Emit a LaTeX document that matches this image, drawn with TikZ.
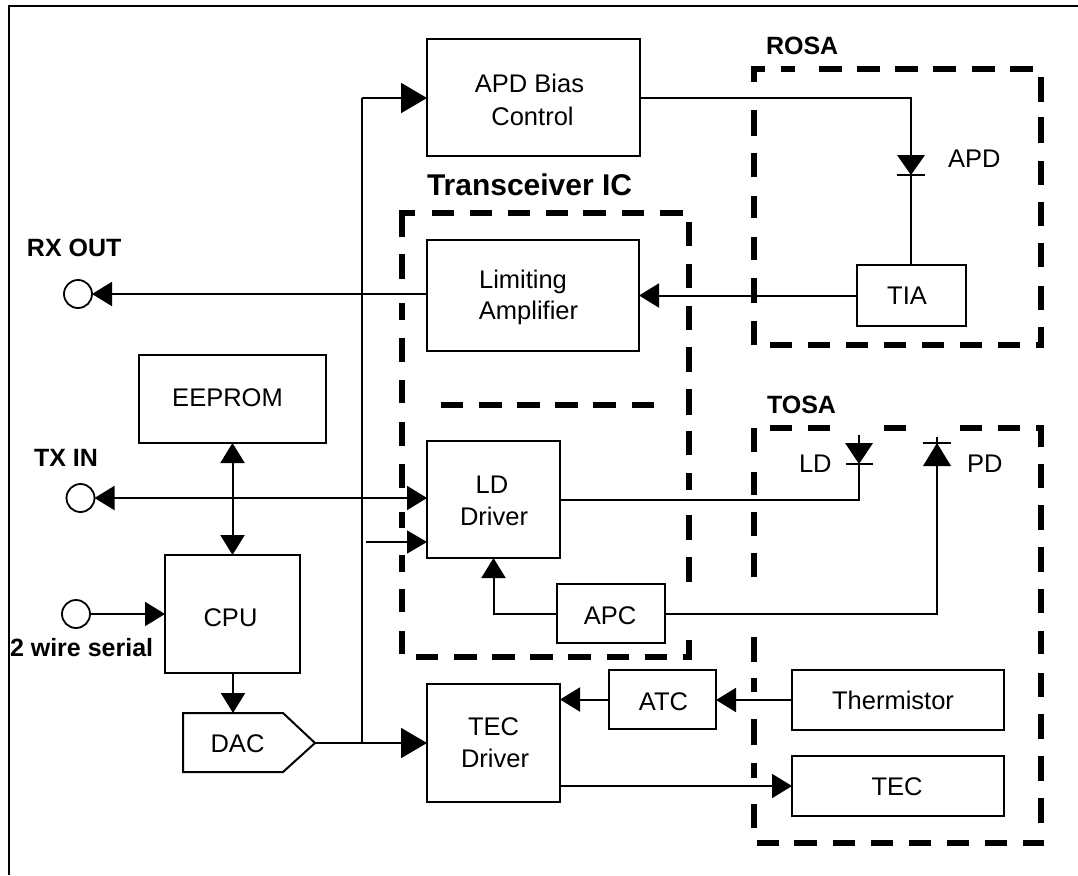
\documentclass[tikz,border=0pt]{standalone}
\usepackage{fontspec}
\setmainfont{Liberation Sans}
\usetikzlibrary{arrows.meta,calc}
% one line of box text: horizontal offset, baseline below the box centre, text
\newcommand{\tline}[3]{\makebox[0pt]{\hspace*{\dimexpr 2\dimexpr #1pt\relax\relax}\raisebox{\dimexpr -#2pt\relax}[0pt][0pt]{#3}}}
\tikzset{
  ln/.style={line width=2pt,line join=miter},
  boxn/.style={ln,draw,inner sep=0pt,outer sep=0pt,font=\fontsize{25.5}{31.5}\selectfont},
  port/.style={draw,circle,line width=1.8pt,minimum size=28pt,inner sep=0pt,outer sep=0pt},
  reglabel/.style={anchor=base west,inner sep=0pt,outer sep=0pt,font=\fontsize{25.5}{31}\selectfont},
  boldlabel/.style={anchor=base west,inner sep=0pt,outer sep=0pt,font=\bfseries\fontsize{25}{30}\selectfont},
  dashseg/.style={line width=6.6pt,line cap=butt,line join=miter},
  bigarrow/.style={ln,-{Triangle[length=26pt,width=30pt]}},
  midarrow/.style={ln,-{Triangle[length=20pt,width=24pt]}},
  twoarrow/.style={ln,{Triangle[length=20pt,width=24pt]}-{Triangle[length=20pt,width=24pt]}},
  thinarrow/.style={line width=1.4pt,-{Triangle[length=20pt,width=23pt]}},
}
\begin{document}
\begin{tikzpicture}[x=1pt,y=-1pt]
\useasboundingbox (0,0) rectangle (1078,875);
% frame
\draw[line width=2.6pt] (9,875)--(9,6)--(1078,6);

% dashed outlines: ROSA
\draw[dashseg] (754,82)--(754,69)--(765,69);
\foreach \a/\b in {781/795,819/842,857/880,895/918,933/956,972/995,1010/1033} \draw[dashseg] (\a,69)--(\b,69);
\foreach \a/\b in {110/136,153/177,196/218,237/260,278/303,321/345} \draw[dashseg] (754,\a)--(754,\b);
\foreach \a/\b in {77/102,117/143,161/185,202/226,243/267,286/310} \draw[dashseg] (1041,\a)--(1041,\b);
\draw[dashseg] (1036,345)--(1041,345)--(1041,327);
\foreach \a/\b in {770/792,808/830,846/868,884/906,922/944,960/982,998/1020} \draw[dashseg] (\a,345)--(\b,345);
% TOSA
\foreach \a/\b in {770/792,808/830,884/906,960/982,998/1020,1036/1044} \draw[dashseg] (\a,428)--(\b,428);
\foreach \a/\b in {428/452,472/495,512/536,553/577,637/662,678/692,719/745,763/778,804/828} \draw[dashseg] (754,\a)--(754,\b);
\foreach \a/\b in {425/447,464/488,505/530,547/572,589/613,631/654,673/697,714/739,756/781,798/823} \draw[dashseg] (1041,\a)--(1041,\b);
\foreach \a/\b in {757/779,794/817,833/855,871/893,909/931,947/969,985/1007,1023/1044} \draw[dashseg] (\a,843)--(\b,843);
% Transceiver IC
\draw[dashseg] (402,237)--(402,213)--(415,213);
\foreach \a/\b in {432/454,470/492,508/530,546/568,583/606,622/644,660/683} \draw[dashseg] (\a,213)--(\b,213);
\foreach \a/\b in {254/279,303/320,338/362,380/403,422/446,464/488,512/528,555/572,589/612,631/654} \draw[dashseg] (402,\a)--(402,\b);
\foreach \a/\b in {222/246,264/288,306/330,347/372,389/415,431/455,473/490,515/540,557/582} \draw[dashseg] (689,\a)--(689,\b);
\foreach \a/\b in {416/438,454/477,492/515,530/553,568/591,607/629,645/667} \draw[dashseg] (\a,657)--(\b,657);
\draw[dashseg] (683,657)--(689,657)--(689,640);
\foreach \a/\b in {441/463,479/502,517/540,555/578,593/616,632/654} \draw[dashseg] (\a,405)--(\b,405);

% boxes
\node[boxn,minimum width=213pt,minimum height=116pt] (apdbias) at (533.5,97.5) {\tline{-4}{-4.8}{APD Bias}\tline{-1}{27.5}{Control}};
\node[boxn,minimum width=212pt,minimum height=111pt] (limit) at (533,295.5) {\tline{-10}{-7.5}{Limiting}\tline{-4.5}{23.5}{Amplifier}};
\node[boxn,minimum width=133pt,minimum height=117pt] (ldrv) at (493.5,499.5) {\tline{-1.5}{-6.5}{LD}\tline{0.5}{25.5}{Driver}};
\node[boxn,minimum width=108pt,minimum height=59pt] (apc) at (611,613.5) {\tline{-1}{10.5}{APC}};
\node[boxn,minimum width=187pt,minimum height=88pt] (eeprom) at (232.5,399) {\tline{-5}{7.7}{EEPROM}};
\node[boxn,minimum width=135pt,minimum height=118pt] (cpu) at (232.5,614) {\tline{-2}{12}{CPU}};
\node[boxn,minimum width=133pt,minimum height=118pt] (tecd) at (493.5,743) {\tline{0}{-8}{TEC}\tline{1.5}{24}{Driver}};
\node[boxn,minimum width=107pt,minimum height=59pt] (atc) at (662.5,699.5) {\tline{1}{11}{ATC}};
\node[boxn,minimum width=212pt,minimum height=60pt] (therm) at (898,700) {\tline{-5}{9}{Thermistor}};
\node[boxn,minimum width=212pt,minimum height=60pt] (tec) at (898,786) {\tline{-1}{9}{TEC}};
\node[boxn,minimum width=109pt,minimum height=61pt] (tia) at (911.5,295.5) {\tline{-4.5}{8.5}{TIA}};
\draw[ln] (183,713)--(283,713)--(315,743)--(283,772)--(183,772)--cycle;
\node[anchor=base,inner sep=0pt,outer sep=0pt,font=\fontsize{25.5}{31}\selectfont] (dac) at (237.5,752.7) {DAC};

% ports
\node[port] (rx) at (78,294) {};
\node[port] (tx) at (80.5,498) {};
\node[port] (ser) at (76,614) {};

% free coordinates
\coordinate (bustop) at (362,98);
\coordinate (dactip) at (315,743);
\coordinate (dactop) at (233,713);
\coordinate (ldin) at (366,542);
\coordinate (apdd) at (911,175);
\coordinate (ldd) at (859,464);
\coordinate (pdd) at (937,443);

% connectors
\draw[bigarrow] (bustop) -- (apdbias.west |- bustop);
\draw[ln] (bustop) -- (bustop |- dactip);
\draw[bigarrow] (dactip) -- (tecd.west |- dactip);
\draw[thinarrow] (ldin) -- (ldrv.west |- ldin);
\draw[midarrow] (tia.west) -- (limit.east);
\draw[midarrow] (limit.west |- rx.east) -- (rx.east);
\draw[twoarrow] (tx.east) -- (ldrv.west |- tx.east);
\draw[twoarrow] (eeprom.south) -- (cpu.north);
\draw[midarrow] (ser.east) -- (cpu.west |- ser.east);
\draw[midarrow] (cpu.south -| dactop) -- (dactop);
\draw[midarrow] (apc.west) -| (ldrv.south);
\draw[midarrow] (atc.west) -- (tecd.east |- atc.west);
\draw[midarrow] (therm.west) -- (atc.east |- therm.west);
\draw[midarrow] (tecd.east |- tec.west) -- (tec.west);
\draw[ln] (apdbias.east) -| (apdd);
\draw[ln] (apdd) -- (apdd |- tia.north);
\draw[ln] (ldrv.east) -| (ldd);
\draw[ln] (apc.east) -| (pdd);

% diodes
\fill[shift={(apdd)}] (-14,-20)--(14,-20)--(0,0)--cycle;
\draw[ln,shift={(apdd)}] (-14,0)--(14,0);
\fill[shift={(ldd)}] (-14,-21)--(14,-21)--(0,0)--cycle;
\draw[ln,shift={(ldd)}] (-13,0)--(14,0) (0,0)--(0,-29);
\fill[shift={(pdd)}] (-14,23)--(14,23)--(0,0)--cycle;
\draw[ln,shift={(pdd)}] (-14,0)--(14,0) (0,0)--(0,-6);

% labels
\node[boldlabel,font=\bfseries\fontsize{30}{36}\selectfont] (ticlab) at (427,195) {Transceiver IC};
\node[boldlabel] (rosalab) at (766,55) {ROSA};
\node[boldlabel] (tosalab) at (767,413) {TOSA};
\node[boldlabel] (rxlab) at (27,256) {RX OUT};
\node[boldlabel] (txlab) at (34,466) {TX IN};
\node[boldlabel] (serlab) at (10,656) {2 wire serial};
\node[reglabel] (apdlab) at (948,167) {APD};
\node[reglabel] (ldlab) at (799,472) {LD};
\node[reglabel] (pdlab) at (967,472) {PD};
\end{tikzpicture}
\end{document}
